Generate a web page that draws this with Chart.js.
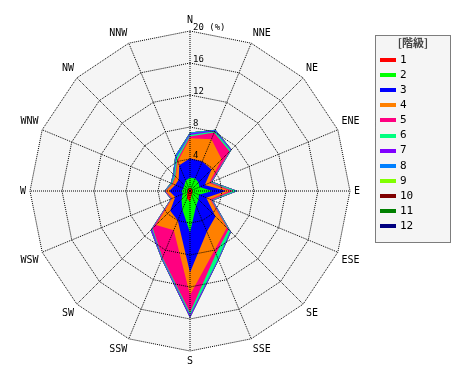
<!DOCTYPE html>
<html><head><meta charset="utf-8">
<script src="https://cdn.jsdelivr.net/npm/chart.js@4"></script>
<style>html,body{margin:0;padding:0;background:#fff;}#wrap{position:relative;width:470px;height:380px;}</style>
</head><body><div id="wrap"><canvas id="c" width="470" height="380"></canvas></div>
<script>
const directions = ['N','NNE','NE','ENE','E','ESE','SE','SSE','S','SSW','SW','WSW','W','WNW','NW','NNW'];
const classLabels = ['1','2','3','4','5','6','7','8','9','10','11','12'];
const classColors = ['#ff0000','#00ff00','#0000ff','#ff8000','#ff0080','#00ff80','#8000ff','#0080ff','#80ff00','#800000','#008000','#000080'];
const legendTitle = '[階級]';
const tickValues = [4, 8, 12, 16, 20];
const tickUnit = '(%)';

// frequency (%) of each class by direction
const class1  = [0.4,0.4,0.3,0.3,0.3,0.3,0.4,0.5,1.3,1.0,0.5,0.3,0.3,0.3,0.3,0.4];
const class2  = [1.3,1.3,1.2,1.0,2.5,0.9,1.1,1.5,3.9,1.5,1.0,0.7,0.7,0.6,0.7,1.0];
const class3  = [2.4,2.3,2.3,0.7,1.7,1.0,3.0,3.5,5.0,1.5,2.0,1.0,1.6,1.1,1.0,2.1];
const class4  = [2.5,3.0,1.8,0.6,0.5,0.5,2.0,2.5,2.8,1.3,2.5,0.4,0.4,0.3,0.5,0.5];
const class5  = [0.2,0.9,1.4,0.2,0.4,0.2,0.3,0.5,2.2,3.7,0.6,0.1,0.1,0.1,0.1,0.2];
const class6  = [0.2,0.2,0.2,0.1,0.4,0.1,0.3,0.7,0.3,0.1,0.1,0.05,0.05,0.1,0.2,0.3];
const class7  = [0.2,0.1,0.1,0.1,0.1,0.1,0.1,0.1,0.3,0.1,0.2,0.05,0.05,0.05,0.1,0.1];
const class8  = [0.1,0.1,0.05,0,0.05,0,0.05,0.05,0.05,0.05,0.05,0,0,0.05,0.1,0.2];
const class9  = [0,0,0,0,0,0,0,0,0,0,0,0,0,0,0,0];
const class10 = [0,0,0,0,0,0,0,0,0,0,0,0,0,0,0,0];
const class11 = [0,0,0,0,0,0,0,0,0,0,0,0,0,0,0,0];
const class12 = [0,0,0,0,0,0,0,0,0,0,0,0,0,0,0,0];

const classes = [class1,class2,class3,class4,class5,class6,class7,class8,class9,class10,class11,class12];

// cumulative (stacked) values
const cumulative = [];
classes.forEach((arr, k) => {
  cumulative.push(arr.map((v, i) => +(v + (k > 0 ? cumulative[k-1][i] : 0)).toFixed(3)));
});

const datasets = classes.map((arr, k) => ({
  label: classLabels[k],
  data: cumulative[k],
  backgroundColor: classColors[k],
  borderColor: classColors[k],
  borderWidth: 0,
  pointRadius: 0,
  pointHoverRadius: 0,
  fill: true
}));

const MONO = '"DejaVu Sans Mono", "Liberation Mono", monospace';

const bgPlugin = {
  id: 'bgPoly',
  beforeDraw(chart) {
    const s = chart.scales.r, ctx = chart.ctx;
    ctx.save();
    ctx.beginPath();
    for (let i = 0; i < directions.length; i++) {
      const p = s.getPointPositionForValue(i, s.max);
      if (i === 0) ctx.moveTo(p.x, p.y); else ctx.lineTo(p.x, p.y);
    }
    ctx.closePath();
    ctx.fillStyle = '#f5f5f5';
    ctx.fill();
    ctx.restore();
  }
};

const tickPlugin = {
  id: 'tickLabels',
  afterDraw(chart) {
    const s = chart.scales.r, ctx = chart.ctx;
    ctx.save();
    ctx.font = '9px ' + MONO;
    ctx.fillStyle = '#000';
    ctx.textAlign = 'left';
    ctx.textBaseline = 'alphabetic';
    tickValues.forEach(v => {
      const d = s.getDistanceFromCenterForValue(v);
      const label = v === s.max ? v + ' ' + tickUnit : String(v);
      ctx.fillText(label, s.xCenter + 3, s.yCenter - d - 1);
    });
    ctx.restore();
  }
};

const legendPlugin = {
  id: 'boxLegend',
  afterDraw(chart) {
    const ctx = chart.ctx;
    const lx = 375.5, ly = 35.5, lw = 75, lh = 207;
    ctx.save();
    ctx.fillStyle = '#f5f5f5';
    ctx.fillRect(lx, ly, lw, lh);
    ctx.setLineDash([1, 1]);
    ctx.strokeStyle = '#000';
    ctx.lineWidth = 1;
    ctx.strokeRect(lx, ly, lw, lh);
    ctx.setLineDash([]);
    ctx.fillStyle = '#444';
    ctx.font = 'bold 11px "Noto Sans CJK JP", sans-serif';
    ctx.textAlign = 'center';
    ctx.textBaseline = 'middle';
    ctx.fillText(legendTitle, lx + lw / 2, 43);
    ctx.textAlign = 'left';
    ctx.font = '11px ' + MONO;
    classLabels.forEach((lab, i) => {
      const y = 60 + 15.1 * i;
      ctx.fillStyle = classColors[i];
      ctx.fillRect(380, Math.round(y) - 2, 16, 4);
      ctx.fillStyle = '#000';
      ctx.fillText(lab, 400, y);
    });
    ctx.restore();
  }
};

new Chart(document.getElementById('c'), {
  type: 'radar',
  data: { labels: directions, datasets },
  options: {
    responsive: false,
    animation: false,
    layout: { padding: { left: 0, right: 90, top: 14, bottom: 12 } },
    plugins: { legend: { display: false }, tooltip: { enabled: false } },
    elements: { line: { tension: 0 } },
    scales: {
      r: {
        min: 0,
        max: 20,
        startAngle: 0,
        ticks: { stepSize: 4, display: false, z: 2 },
        grid: { color: '#000', lineWidth: 1, circular: false, z: 1 },
        border: { dash: [1, 1], z: 1 },
        angleLines: { color: '#000', lineWidth: 1, borderDash: [1, 1] },
        pointLabels: { color: '#000', padding: 4, font: { family: MONO, size: 10, lineHeight: '13px' } }
      }
    }
  },
  plugins: [bgPlugin, tickPlugin, legendPlugin]
});
</script>
</body></html>
